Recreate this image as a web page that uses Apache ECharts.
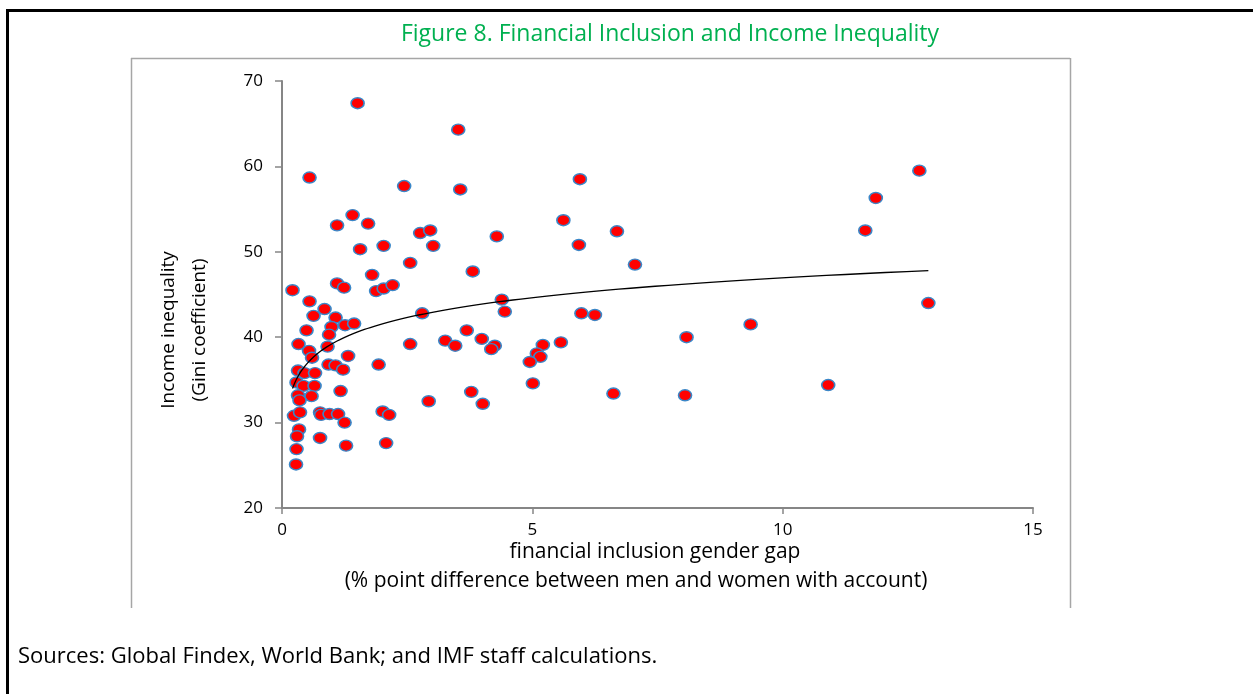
<!DOCTYPE html>
<html>
<head>
<meta charset="utf-8">
<title>Financial Inclusion and Income Inequality</title>
<script src="https://cdn.jsdelivr.net/npm/echarts@6/dist/echarts.min.js"></script>
<style>
  html, body { margin: 0; padding: 0; background: #ffffff; }
  #chart { width: 1253px; height: 694px; }
</style>
</head>
<body>
<div id="chart"></div>
<script>
// Country observations: financial inclusion gender gap (% points) and Gini coefficient
const genderGap = [
  1.51, 0.55, 2.44, 1.41, 1.10, 1.72, 2.76, 2.96, 1.56, 2.03,
  2.56, 3.02, 1.80, 0.21, 1.10, 1.24, 1.88, 2.03, 2.21, 0.55,
  0.63, 0.85, 1.07, 1.26, 1.44, 0.99, 0.49, 0.94, 0.33, 0.91,
  2.56, 0.54, 0.60, 1.32, 0.93, 1.07, 1.22, 1.93, 0.32, 0.45,
  0.66, 0.29, 0.43, 0.65, 0.32, 0.59, 0.35, 1.17, 2.93, 0.24,
  0.36, 0.76, 0.78, 0.95, 1.12, 1.25, 2.01, 2.14, 0.34, 0.30,
  0.76, 0.29, 1.28, 2.08, 0.28, 3.52, 3.56, 5.95, 5.62, 4.29,
  5.93, 3.81, 4.39, 2.80, 4.45, 5.98, 6.25, 3.69, 3.26, 3.46,
  3.99, 4.25, 4.18, 5.21, 5.57, 5.09, 5.16, 4.95, 5.01, 3.78,
  4.01, 6.69, 7.05, 8.08, 9.36, 6.62, 8.05, 12.73, 11.86, 11.65,
  12.91, 10.91
];
const giniCoefficient = [
  67.4, 58.7, 57.7, 54.3, 53.1, 53.3, 52.2, 52.5, 50.3, 50.7,
  48.7, 50.7, 47.3, 45.5, 46.3, 45.8, 45.4, 45.7, 46.1, 44.2,
  42.5, 43.3, 42.3, 41.4, 41.6, 41.2, 40.8, 40.3, 39.2, 38.9,
  39.2, 38.4, 37.6, 37.8, 36.8, 36.7, 36.2, 36.8, 36.1, 35.8,
  35.8, 34.7, 34.3, 34.3, 33.2, 33.1, 32.6, 33.7, 32.5, 30.8,
  31.2, 31.2, 30.9, 31.0, 31.0, 30.0, 31.3, 30.9, 29.2, 28.4,
  28.2, 26.9, 27.3, 27.6, 25.1, 64.3, 57.3, 58.5, 53.7, 51.8,
  50.8, 47.7, 44.4, 42.8, 43.0, 42.8, 42.6, 40.8, 39.6, 39.0,
  39.8, 39.0, 38.6, 39.1, 39.4, 38.1, 37.7, 37.1, 34.6, 33.6,
  32.2, 52.4, 48.5, 40.0, 41.5, 33.4, 33.2, 59.5, 56.3, 52.5,
  44.0, 34.4
];

// Axis ticks
const xTicks = [0, 5, 10, 15];
const yTicks = [20, 30, 40, 50, 60, 70];

const titleText = 'Figure 8. Financial Inclusion and Income Inequality';
const xTitleLines = ['financial inclusion gender gap', '(% point difference between men and women with account)'];
const yTitleLines = ['Income inequality', '(Gini coefficient)'];
const sourceText = 'Sources: Global Findex, World Bank; and IMF staff calculations.';

// Scatter points
const points = genderGap.map((g, i) => [g, giniCoefficient[i]]);

// Logarithmic trend (least squares of Gini on ln(gap)), drawn over the data range
const lnX = genderGap.map(Math.log);
const n = lnX.length;
const mLn = lnX.reduce((s, v) => s + v, 0) / n;
const mY = giniCoefficient.reduce((s, v) => s + v, 0) / n;
let sxy = 0, sxx = 0;
for (let i = 0; i < n; i++) {
  sxy += (lnX[i] - mLn) * (giniCoefficient[i] - mY);
  sxx += (lnX[i] - mLn) * (lnX[i] - mLn);
}
const slope = sxy / sxx;
const intercept = mY - slope * mLn;
const xMin = Math.min(...genderGap);
const xMax = Math.max(...genderGap);
const trend = [];
const steps = 120;
for (let k = 0; k <= steps; k++) {
  const x = xMin * Math.pow(xMax / xMin, k / steps);
  trend.push([x, intercept + slope * Math.log(x)]);
}

const FONT = '"Open Sans", "Noto Sans", sans-serif';
const chart = echarts.init(document.getElementById('chart'), null, { renderer: 'canvas' });

chart.setOption({
  backgroundColor: '#ffffff',
  animation: false,
  textStyle: { fontFamily: FONT },
  grid: {
    left: 282, right: 220, top: 81, bottom: 186,
    containLabel: false, outerBoundsMode: 'none'
  },
  xAxis: {
    type: 'value',
    min: xTicks[0], max: xTicks[xTicks.length - 1], interval: 5,
    splitLine: { show: false },
    axisLine: { show: true, onZero: false, lineStyle: { color: '#868686', width: 2 } },
    axisTick: { show: true, inside: false, length: 6, lineStyle: { color: '#868686', width: 1.5 } },
    axisLabel: { color: '#000000', fontSize: 17, margin: 14, fontFamily: FONT }
  },
  yAxis: {
    type: 'value',
    min: yTicks[0], max: yTicks[yTicks.length - 1], interval: 10,
    splitLine: { show: false },
    axisLine: { show: true, onZero: false, lineStyle: { color: '#868686', width: 2 } },
    axisTick: { show: true, inside: false, length: 7, lineStyle: { color: '#868686', width: 1.5 } },
    axisLabel: { color: '#000000', fontSize: 17, margin: 19, fontFamily: FONT }
  },
  series: [
    {
      type: 'scatter',
      data: points,
      symbol: 'circle',
      symbolSize: [13, 11],
      itemStyle: { color: '#ff0000', borderColor: '#3a87c8', borderWidth: 1.5, opacity: 1 },
      z: 2
    },
    {
      type: 'line',
      data: trend,
      showSymbol: false,
      symbol: 'none',
      smooth: false,
      lineStyle: { color: '#000000', width: 1.3 },
      z: 3
    }
  ],
  graphic: [
    // outer page frame
    { type: 'line', shape: { x1: 6, y1: 10.5, x2: 1253, y2: 10.5 }, style: { stroke: '#000000', lineWidth: 3 } },
    { type: 'line', shape: { x1: 7.5, y1: 9, x2: 7.5, y2: 694 }, style: { stroke: '#000000', lineWidth: 3 } },
    // chart area border
    { type: 'line', shape: { x1: 131, y1: 58.5, x2: 1070, y2: 58.5 }, style: { stroke: '#a6a6a6', lineWidth: 1.5 } },
    { type: 'line', shape: { x1: 131.5, y1: 58, x2: 131.5, y2: 608 }, style: { stroke: '#a6a6a6', lineWidth: 1.5 } },
    { type: 'line', shape: { x1: 1070.5, y1: 58, x2: 1070.5, y2: 608 }, style: { stroke: '#a6a6a6', lineWidth: 1.5 } },
    // title
    { type: 'text', x: 670, y: 34,
      style: { text: titleText, fill: '#00b050', font: '23px ' + FONT, textAlign: 'center', textVerticalAlign: 'middle' } },
    // x-axis title
    { type: 'text', x: 655, y: 552,
      style: { text: xTitleLines[0], fill: '#000000', font: '21px ' + FONT, textAlign: 'center', textVerticalAlign: 'middle' } },
    { type: 'text', x: 636, y: 581,
      style: { text: xTitleLines[1], fill: '#000000', font: '21px ' + FONT, textAlign: 'center', textVerticalAlign: 'middle' } },
    // y-axis title
    { type: 'text', x: 169, y: 330, rotation: Math.PI / 2,
      style: { text: yTitleLines[0], fill: '#000000', font: '19px ' + FONT, textAlign: 'center', textVerticalAlign: 'middle' } },
    { type: 'text', x: 200, y: 330, rotation: Math.PI / 2,
      style: { text: yTitleLines[1], fill: '#000000', font: '19px ' + FONT, textAlign: 'center', textVerticalAlign: 'middle' } },
    // source note
    { type: 'text', x: 18, y: 657,
      style: { text: sourceText, fill: '#000000', font: '22px ' + FONT, textAlign: 'left', textVerticalAlign: 'middle' } }
  ]
});
</script>
</body>
</html>
